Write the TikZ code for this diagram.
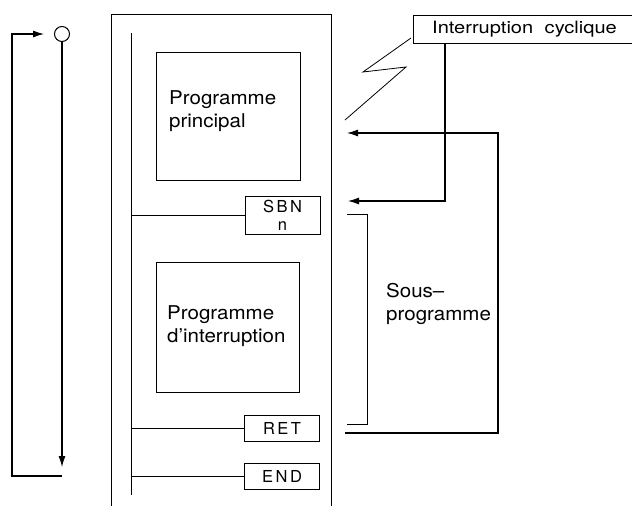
\documentclass[tikz,border=0pt]{standalone}
\usepackage{fontspec}
\setmainfont{TeX Gyre Heros}
\usetikzlibrary{arrows.meta}
\newcommand{\bigtxt}{\fontsize{19}{23}\selectfont}
\newcommand{\smalltxt}{\fontsize{16.5}{18}\selectfont}
\newcommand{\wide}[2]{\scalebox{#1}[1]{#2}}
\begin{document}
\begin{tikzpicture}[x=1pt,y=-1pt,
  ln/.style={line width=1pt},
  thin/.style={line width=0.8pt},
  arr/.style={line width=1.1pt,-{Latex[length=11pt,width=7pt]}},
  instr/.style={draw,line width=1pt,minimum width=75pt,inner sep=0pt,font=\smalltxt},
  blk/.style={draw,line width=1pt,inner sep=0pt},
  lbl/.style={inner sep=0pt,align=left,font=\bigtxt}]
\useasboundingbox (0,0) rectangle (632,506);
% outer frame and rail
\draw[ln] (111,506) -- (111,14) -- (331,14) -- (331,506);
\coordinate (railtop) at (131,33);
\coordinate (railbot) at (131,495);
\draw[ln] (railtop) -- (railbot);
% program blocks
\node[blk,minimum width=144pt,minimum height=128pt] (pp) at (228,116) {};
\node[lbl,anchor=west] (pptxt) at (169,111.5) {\wide{1.08}{Programme}\\\wide{1.08}{principal}};
\node[blk,minimum width=143pt,minimum height=130pt] (pi) at (227.5,327) {};
\node[lbl,anchor=west] (pitxt) at (167,326) {\wide{1.08}{Programme}\\\wide{1.08}{d’interruption}};
% instructions
\node[instr,minimum height=38pt,align=center] (sbn) at (282.5,215) {S\kern2.5pt B\kern2.5pt N\\[0pt]n};
\node[instr,minimum height=26pt] (ret) at (282,428) {R\kern2.5pt E\kern2.5pt T};
\node[instr,minimum height=26pt] (end) at (282,476) {E\kern2.5pt N\kern2.5pt D};
\draw[ln] (131,215) -- (sbn.west);
\draw[ln] (131,428) -- (ret.west);
\draw[ln] (131,476) -- (end.west);
% left loop
\node[draw,circle,line width=1pt,minimum size=15pt,inner sep=0pt] (sw) at (62,34) {};
\coordinate (lb) at (62,476);
\coordinate (lin) at (44,34);
\coordinate (ldown) at (62,467);
\draw[arr] (lb) -- (12,476) -- (12,34) -- (lin);
\draw[arr] (sw.south) -- (ldown);
% interruption box
\node[draw,line width=1pt,minimum width=218.5pt,minimum height=28pt,inner sep=0pt,anchor=north west] (ic) at (413,15) {};
\node[inner sep=0pt,anchor=base west,font=\fontsize{17}{20}\selectfont] (ictxt) at (432,34) {\wide{1.18}{Interruption\hspace{5pt} cyclique}};
\coordinate (icdown) at (445,43);
\coordinate (a2) at (348,201);
\draw[arr] (icdown) -- (445,201) -- (a2);
% lightning
\coordinate (z1) at (411,38);
\coordinate (z2) at (363,72);
\coordinate (z3) at (406,67);
\coordinate (z4) at (345,120);
\draw[thin] (z1) -- (z2) -- (z3) -- (z4);
% return path
\coordinate (rs) at (345,433);
\coordinate (a1) at (347,133);
\draw[arr] (rs) -- (498,433) -- (498,133) -- (a1);
% bracket
\coordinate (bt) at (347,214);
\coordinate (bb) at (347,424);
\draw[thin] (bt) -- (367,214) -- (367,424) -- (bb);
\node[lbl,anchor=west] (sp) at (386,304) {\wide{1.08}{Sous–}\\\wide{1.08}{programme}};
\end{tikzpicture}
\end{document}
